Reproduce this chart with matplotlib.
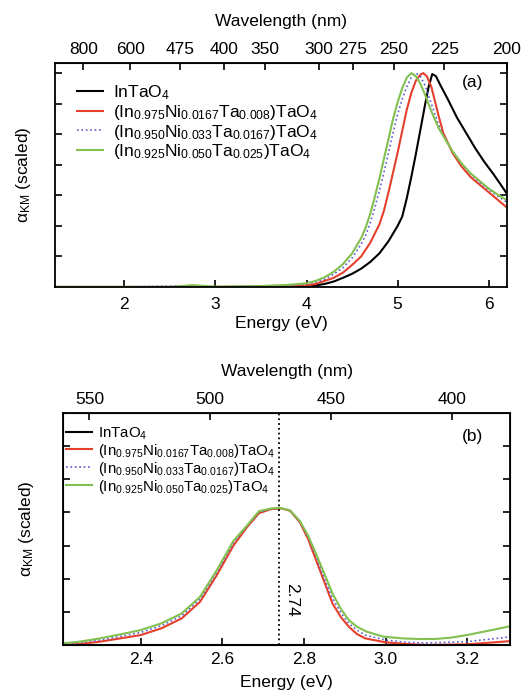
import matplotlib
matplotlib.use('Agg')
import matplotlib.pyplot as plt

plt.rcParams['font.family'] = ['Liberation Sans', 'DejaVu Sans']
plt.rcParams['mathtext.fontset'] = 'custom'
plt.rcParams['mathtext.rm'] = 'Liberation Sans'
plt.rcParams['mathtext.it'] = 'Liberation Sans:italic'
plt.rcParams['mathtext.bf'] = 'Liberation Sans:bold'

# Series labels and colours
labels = [
    r'InTaO$_{\mathrm{4}}$',
    r'(In$_{\mathrm{0.975}}$Ni$_{\mathrm{0.0167}}$Ta$_{\mathrm{0.008}}$)TaO$_{\mathrm{4}}$',
    r'(In$_{\mathrm{0.950}}$Ni$_{\mathrm{0.033}}$Ta$_{\mathrm{0.0167}}$)TaO$_{\mathrm{4}}$',
    r'(In$_{\mathrm{0.925}}$Ni$_{\mathrm{0.050}}$Ta$_{\mathrm{0.025}}$)TaO$_{\mathrm{4}}$',
]
colors = ['black', '#e5402c', '#5b5bd2', '#82c04f']
styles = ['-', '-', ':', '-']

# ---- panel (a): full range, energy in eV, alpha_KM scaled (peak = 7)
a_e_black = [1.24, 2.0, 3.0, 3.8, 4.0, 4.1, 4.2, 4.3, 4.4, 4.5, 4.6, 4.7, 4.8, 4.9,
             5.0, 5.05, 5.1, 5.15, 5.2, 5.25, 5.3, 5.34, 5.38, 5.42, 5.47, 5.55,
             5.65, 5.75, 5.85, 5.95, 6.05, 6.12, 6.2]
a_v_black = [0, 0, 0, 0, 0.0, 0.05, 0.1, 0.18, 0.3, 0.43, 0.6, 0.82, 1.1, 1.5,
             2.0, 2.3, 2.9, 3.6, 4.35, 5.15, 5.95, 6.55, 6.97, 6.9, 6.6, 6.15,
             5.55, 5.05, 4.55, 4.1, 3.7, 3.4, 3.05]

a_e_red = [1.24, 2.0, 3.0, 3.8, 4.0, 4.1, 4.2, 4.3, 4.4, 4.5, 4.6, 4.7, 4.8, 4.85,
           4.9, 4.95, 5.0, 5.05, 5.1, 5.15, 5.2, 5.25, 5.28, 5.32, 5.37, 5.45,
           5.5, 5.6, 5.7, 5.8, 5.9, 6.0, 6.1, 6.2]
a_v_red = [0, 0, 0, 0.02, 0.05, 0.1, 0.2, 0.3, 0.47, 0.72, 1.0, 1.45, 2.05, 2.5,
           3.1, 3.75, 4.4, 5.1, 5.8, 6.35, 6.75, 6.95, 7.0, 6.9, 6.55, 5.6,
           5.05, 4.4, 3.95, 3.6, 3.35, 3.1, 2.85, 2.6]

a_e_blue = [1.24, 2.0, 2.75, 3.0, 3.8, 4.0, 4.1, 4.2, 4.3, 4.4, 4.5, 4.6, 4.65, 4.7,
            4.75, 4.8, 4.85, 4.9, 4.95, 5.0, 5.05, 5.1, 5.15, 5.2, 5.25, 5.3,
            5.37, 5.45, 5.52, 5.6, 5.7, 5.8, 5.9, 6.0, 6.1, 6.2]
a_v_blue = [0, 0, 0.04, 0, 0.05, 0.1, 0.16, 0.26, 0.42, 0.63, 0.95, 1.4, 1.7, 2.1,
            2.6, 3.15, 3.75, 4.4, 5.05, 5.65, 6.15, 6.55, 6.85, 7.0, 6.9, 6.6,
            6.0, 5.3, 4.87, 4.45, 4.05, 3.7, 3.42, 3.18, 2.97, 2.77]

a_e_green = [1.24, 2.5, 2.75, 3.0, 3.5, 3.8, 4.0, 4.1, 4.2, 4.3, 4.4, 4.5, 4.6, 4.65,
             4.7, 4.75, 4.8, 4.85, 4.9, 4.95, 5.0, 5.05, 5.1, 5.15, 5.2, 5.25,
             5.3, 5.37, 5.45, 5.52, 5.6, 5.7, 5.8, 5.9, 6.0, 6.1, 6.2]
a_v_green = [0, 0, 0.06, 0.01, 0.03, 0.07, 0.12, 0.2, 0.32, 0.5, 0.75, 1.1, 1.6, 1.95,
             2.4, 2.95, 3.55, 4.2, 4.85, 5.5, 6.05, 6.5, 6.85, 7.0, 6.9, 6.65,
             6.3, 5.75, 5.2, 4.85, 4.45, 4.05, 3.72, 3.47, 3.22, 3.02, 2.84]

a_wl_ticks = [800, 600, 475, 400, 350, 300, 275, 250, 225, 200]

# ---- panel (b): zoom on the visible band (peak ~ 4)
b_e_black = [2.21, 3.31]
b_v_black = [0, 0]

b_e_red = [2.21, 2.25, 2.30, 2.35, 2.40, 2.45, 2.50, 2.545, 2.586, 2.627, 2.66, 2.69,
           2.72, 2.745, 2.766, 2.79, 2.81, 2.83, 2.85, 2.87, 2.89, 2.91, 2.93, 2.95,
           3.0, 3.05, 3.1, 3.2, 3.31]
b_v_red = [0.0, 0.03, 0.1, 0.2, 0.3, 0.5, 0.8, 1.3, 2.1, 3.0, 3.55, 3.98,
           4.1, 4.12, 4.05, 3.7, 3.2, 2.55, 1.9, 1.25, 0.85, 0.55, 0.33, 0.2,
           0.08, 0.03, 0.0, 0.02, 0.12]

b_e_blue = [2.21, 2.25, 2.30, 2.35, 2.40, 2.45, 2.50, 2.545, 2.586, 2.627, 2.66, 2.69,
            2.72, 2.745, 2.766, 2.79, 2.81, 2.83, 2.85, 2.87, 2.89, 2.91, 2.93, 2.95,
            3.0, 3.05, 3.1, 3.2, 3.31]
b_v_blue = [0.02, 0.07, 0.15, 0.26, 0.38, 0.58, 0.88, 1.38, 2.18, 3.08, 3.58, 4.0,
            4.11, 4.13, 4.06, 3.72, 3.26, 2.65, 2.0, 1.4, 0.98, 0.65, 0.45, 0.3,
            0.15, 0.08, 0.06, 0.1, 0.25]

b_e_green = [2.21, 2.25, 2.30, 2.35, 2.40, 2.45, 2.50, 2.545, 2.586, 2.627, 2.66, 2.69,
             2.72, 2.74, 2.766, 2.79, 2.81, 2.83, 2.85, 2.87, 2.89, 2.91, 2.93, 2.954,
             2.995, 3.04, 3.08, 3.12, 3.16, 3.2, 3.24, 3.28, 3.31]
b_v_green = [0.05, 0.1, 0.2, 0.32, 0.45, 0.65, 0.95, 1.45, 2.25, 3.14, 3.6, 4.04,
             4.12, 4.14, 4.06, 3.74, 3.3, 2.74, 2.15, 1.55, 1.1, 0.75, 0.55, 0.40,
             0.25, 0.2, 0.18, 0.18, 0.22, 0.3, 0.4, 0.5, 0.58]

b_wl_ticks = [550, 500, 450, 400]
b_peak = 2.74

FS = 12.5


def style_axes(ax):
    for s in ax.spines.values():
        s.set_linewidth(1.3)
    ax.tick_params(direction='in', length=5, width=1.2, labelsize=FS,
                   right=True, top=False, labelleft=False)


def e2nm(e):
    return 1239.84 / e


fig = plt.figure(figsize=(5.27, 6.91), dpi=100)

# ---------------- panel (a)
ax1 = fig.add_axes([0.1044, 0.5847, 0.8576, 0.3241])
series_a = [(a_e_black, a_v_black), (a_e_red, a_v_red),
            (a_e_blue, a_v_blue), (a_e_green, a_v_green)]
for (e, v), c, ls, lab in zip(series_a, colors, styles, labels):
    ax1.plot(e, v, color=c, ls=ls, lw=1.5 if ls == '-' else 1.2, label=lab)
ax1.set_xlim(1.24, 6.2)
ax1.set_ylim(0, 7.33)
ax1.set_yticks(range(1, 8))
ax1.set_xticks([2, 3, 4, 5, 6])
style_axes(ax1)
ax1.tick_params(axis='x', pad=7)
ax1.set_xlabel('Energy (eV)', fontsize=FS, labelpad=3)
ax1.set_ylabel(r'α$_{\mathrm{KM}}$ (scaled)', fontsize=FS, labelpad=16)
ax1.text(0.923, 0.915, '(a)', transform=ax1.transAxes, fontsize=FS,
         ha='center', va='center')
ax1.legend(loc='upper left', bbox_to_anchor=(0.041, 0.926), frameon=False,
           fontsize=FS, handlelength=1.5, handletextpad=0.6,
           labelspacing=0.05, borderpad=0.2, borderaxespad=0)

top1 = ax1.secondary_xaxis('top', functions=(e2nm, e2nm))
top1.set_xticks(a_wl_ticks)
top1.tick_params(direction='in', length=5, width=1.2, labelsize=FS, pad=4.5)
top1.set_xlabel('Wavelength (nm)', fontsize=FS, labelpad=11)

# ---------------- panel (b)
ax2 = fig.add_axes([0.1201, 0.0666, 0.8476, 0.3357])
series_b = [(b_e_black, b_v_black), (b_e_red, b_v_red),
            (b_e_blue, b_v_blue), (b_e_green, b_v_green)]
for (e, v), c, ls, lab in zip(series_b, colors, styles, labels):
    ax2.plot(e, v, color=c, ls=ls, lw=1.5 if ls == '-' else 1.2, label=lab,
             zorder=1 if c == 'black' else 2)
ax2.axvline(b_peak, color='black', ls=':', lw=1.3)
ax2.text(b_peak + 0.012, 1.35, '2.74', rotation=270, fontsize=FS,
         ha='left', va='center')
ax2.set_xlim(2.21, 3.305)
ax2.set_ylim(0, 7)
ax2.set_yticks(range(1, 7))
ax2.set_xticks([2.4, 2.6, 2.8, 3.0, 3.2])
ax2.set_xticklabels(['2.4', '2.6', '2.8', '3.0', '3.2'])
style_axes(ax2)
ax2.tick_params(axis='x', pad=5)
ax2.set_xlabel('Energy (eV)', fontsize=FS, labelpad=5.5)
ax2.set_ylabel(r'α$_{\mathrm{KM}}$ (scaled)', fontsize=FS, labelpad=20)
ax2.text(0.915, 0.897, '(b)', transform=ax2.transAxes, fontsize=FS,
         ha='center', va='center')
ax2.legend(loc='upper left', bbox_to_anchor=(0.0, 0.96), frameon=False,
           fontsize=10.8, handlelength=1.7, handletextpad=0.4,
           labelspacing=0.0, borderpad=0.2, borderaxespad=0)

# top wavelength scale of panel (b) is linear in nm
top2 = ax2.twiny()
top2.set_xlim(560.8, 375.9)
top2.set_xticks(b_wl_ticks)
top2.tick_params(direction='in', length=5, width=1.2, labelsize=FS, pad=4.5)
top2.set_xlabel('Wavelength (nm)', fontsize=FS, labelpad=11)

fig.savefig('out.png', dpi=100)
